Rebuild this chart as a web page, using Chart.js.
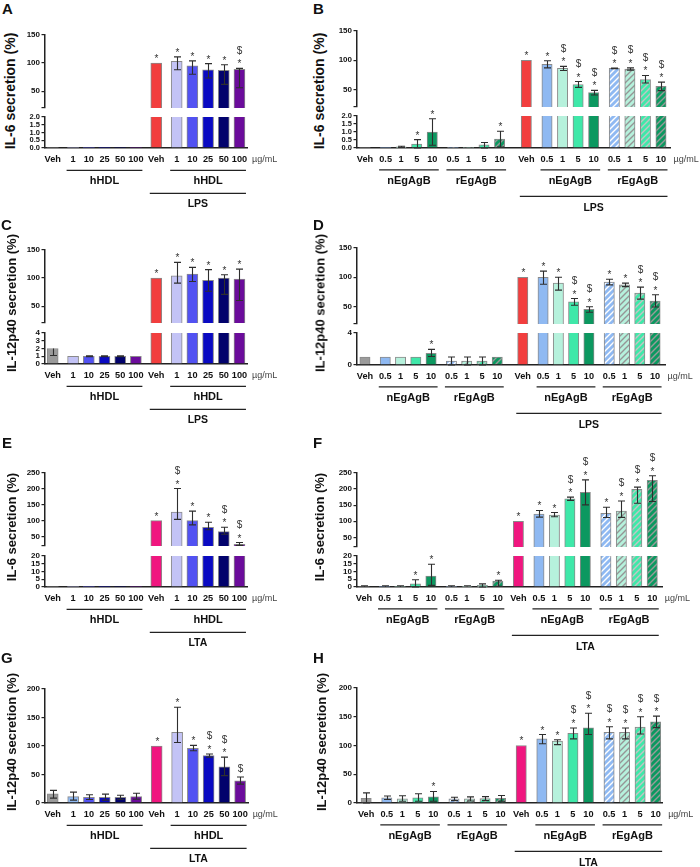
<!DOCTYPE html>
<html><head><meta charset="utf-8">
<script src="https://cdn.jsdelivr.net/npm/chart.js@4.4.0/dist/chart.umd.min.js"></script>
<style>
html,body{margin:0;padding:0;background:#fff;}
#fig{position:relative;width:700px;height:867px;overflow:hidden;font-family:"Liberation Sans",Arial,Helvetica,sans-serif;background:#fff;}
#fig canvas{position:absolute;}
.letter{position:absolute;font-weight:bold;color:#111;font-size:15px;line-height:1;}
.ytitle{position:absolute;font-weight:bold;color:#111;white-space:nowrap;line-height:1;transform:translate(-50%,-50%) rotate(-90deg);}
</style></head><body><div id="fig"></div>
<script>
// ---------------- DATA ----------------
const hdlLabels = ['Veh','1','10','25','50','100','Veh','1','10','25','50','100'];
const agbLabels = ['Veh','0.5','1','5','10','0.5','1','5','10','Veh','0.5','1','5','10','0.5','1','5','10'];
const hdlGroupNames = ['hHDL','hHDL'];
const agbGroupNames = ['nEgAgB','rEgAgB','nEgAgB','rEgAgB'];
const unitLabel = 'µg/mL';

const ticksUp150 = [20,50,100,150];        const ticksUp150Lbl = ['','50','100','150'];
const ticksLow2 = [0,0.5,1,1.5,2];         const ticksLow2Lbl = ['0.0','0.5','1.0','1.5','2.0'];
const ticksLow4 = [0,1,2,3,4];             const ticksLow4Lbl = ['0','1','2','3','4'];
const ticksLow4b = [0,4];                  const ticksLow4bLbl = ['0','4'];
const ticksUp250 = [20,50,100,150,200,250];const ticksUp250Lbl = ['','50','100','150','200','250'];
const ticksLow20 = [0,5,10,15,20];         const ticksLow20Lbl = ['0','5','10','15','20'];
const ticks200 = [0,50,100,150,200];       const ticks200Lbl = ['0','50','100','150','200'];

// A: IL-6, hHDL, LPS
const aMean  = [0,0,0,0,0,0,100,103,95,88,87,89];
const aErrUp = [0,0,0,0,0,0,0,8,9,11,10,1.5];
const aErrDn = [0,0,0,0,0,0,0,15,15,14.5,25,33];
const aMarks = ['','','','','','','*','*','*','*','*','*$'];
// B: IL-6, EgAgB, LPS
const bMean  = [0,0,0.07,0.25,1.0,0,0,0.2,0.55,100,93,86,58.5,44.5,86,85,67,55.5];
const bErrUp = [0,0,0.04,0.27,0.83,0,0,0.14,0.5,0,6,3.5,5,4,0.5,2,7,7];
const bErrDn = [0,0,0.04,0.25,0.83,0,0,0.2,0.5,0,6,3.5,5,4,0.5,2,6,7.5];
const bMarks = ['','','','*','*','','','','*','*','*','*$','*$','*$','*$','*$','*$','*$'];
// C: IL-12p40, hHDL, LPS
const cMean  = [2,1,1,1,1,1,100,104,107,96,100,98];
const cErrUp = [0,0,0.05,0.05,0.05,0,0,24,12,19,6,18];
const cErrDn = [0.9,0,0.05,0.05,0.05,0,0,13,13,19.5,29,38];
const cMarks = ['','','','','','','*','*','*','*','*','*'];
// D: IL-12p40, EgAgB, LPS
const dMean  = [1,1,1,1,1.45,0.5,0.5,0.5,1,100,100,90,58,45,91.5,87,73,59];
const dErrUp = [0,0,0,0,0.5,0.5,0.5,0.5,0,0,10.5,10,5.5,4.5,5,3,10,11];
const dErrDn = [0,0,0,0,0.4,0.5,0.5,0.5,0,0,12,12,6,5,4.5,3,10.5,10];
const dMarks = ['','','','','*','','','','','*','*','*','*$','*$','*','*','*$','*$'];
// E: IL-6, hHDL, LTA
const eMean  = [0,0,0,0,0,0,100,127,100,79,65.5,25];
const eErrUp = [0,0,0,0,0,0,0,74,30,16,13.5,6];
const eErrDn = [0,0,0,0,0,0,0,23,13.5,8,8.5,3];
const eMarks = ['','','','','','','*','*$','*','*','*$','*$'];
// F: IL-6, EgAgB, LTA
const fMean  = [0,0,0,2,7,0,0.3,1,3.8,100,122,119,170,190,124.5,132,199,227.5];
const fErrUp = [0.8,0.8,0.8,2.7,7.7,0.8,0.5,1,0.5,0,11.5,8,5,38.5,19,31,7,14];
const fErrDn = [0,0,0,2,6,0,0,1,3.4,0,9,5,5,39,13,20,43,66];
const fMarks = ['','','','*','*','','','','*','*','*','*','*$','*$','*','*$','*$','*$'];
// G: IL-12p40, hHDL, LTA
const gMean  = [16,11,10,10,10,11,100,124,96,83,63.5,39];
const gErrUp = [6,8,4.5,5.5,3.5,6,0,44,5,3,17,6.5];
const gErrDn = [7.5,6,4,5,3.5,4.5,0,18,4.5,2.5,15.5,6];
const gMarks = ['','','','','','','*','*','*','*$','*$','$'];
// H: IL-12p40, EgAgB, LTA
const hMean  = [8,9,7,9,10.5,7,7,7.5,8,100,111.5,107.5,121,130.5,123,123,132,141];
const hErrUp = [9.5,3,5.5,7,9.5,3,3.5,3.5,5,0,7.5,2.5,9.5,25.5,9.5,7.5,18,10];
const hErrDn = [8,3,4,6,7.5,3,3.5,3.5,5,0,8.5,6,9.5,11.5,11.5,11.5,12,10];
const hMarks = ['','','','','*','','','','','*','*','*','*$','*$','*$','*$','*$','*$'];

// ---------------- STYLE ----------------
const FONT = '"Liberation Sans", Arial, Helvetica, sans-serif';
Chart.defaults.font.family = FONT;
Chart.defaults.color = '#111';
const GRAY='#9b9b9b', RED='#f23e3e', PINK='#f0167f', LAV='#c3c3f6', BLUE1='#5252f2', BLUE2='#0a0ac2',
      NAVY='#02026c', PURPLE='#6b0c9b', LBLUE='#8fb9f2', MINT='#b6f1dc', AQUA='#3fe8a9', GREEN='#0c9860';
function hatch(base, stripe){
  const s=6, c=document.createElement('canvas'); c.width=s; c.height=s;
  const x=c.getContext('2d'); x.fillStyle=base; x.fillRect(0,0,s,s);
  x.strokeStyle=stripe; x.lineWidth=1.4; x.beginPath();
  x.moveTo(0,s); x.lineTo(s,0); x.moveTo(-1,1); x.lineTo(1,-1); x.moveTo(s-1,s+1); x.lineTo(s+1,s-1);
  x.stroke(); return x.createPattern(c,'repeat');
}
const hLBLUE=hatch(LBLUE,'#ffffff'), hMINT=hatch(MINT,'#959595'), hAQUA=hatch(AQUA,'#c4c4c4'), hGREEN=hatch(GREEN,'#9a9a9a');
const hdlColors = (stim, first) => [GRAY, first||LAV, BLUE1, BLUE2, NAVY, PURPLE, stim, LAV, BLUE1, BLUE2, NAVY, PURPLE];
const agbColors = (stim) => [GRAY, LBLUE, MINT, AQUA, GREEN, hLBLUE, hMINT, hAQUA, hGREEN, stim, LBLUE, MINT, AQUA, GREEN, hLBLUE, hMINT, hAQUA, hGREEN];

function positions(sizes, g, bigIdx, bigG){
  const out=[]; let p=0;
  sizes.forEach((n,gi)=>{
    if (gi>0) p += 1 + g + (gi===bigIdx ? bigG : 0);
    for (let k=0;k<n;k++){ if(k>0) p+=1; out.push(+p.toFixed(3)); }
  });
  return out;
}
const hdlGroups = (sec) => ({groups: hdlGroupNames.map((n,i)=>({name:n, from: i?7:1, to: i?11:5})), section:{name:sec, from:6, to:11}});
const agbGroups = (sec) => ({groups: agbGroupNames.map((n,i)=>({name:n, from:[1,5,10,14][i], to:[4,8,13,17][i]})), section:{name:sec, from:9, to:17}});

const offL = {gLine:22.5, gLab:33.5, sLine:45.5, sLab:56.5};
const offR = {gLine:22, gLab:33.5, sLine:48.5, sLab:60};

const panels = [
 Object.assign({letter:'A', lp:[2,1], title:'IL-6 secretion (%)', tp:[10,91], ts:14, labels:hdlLabels,
   sizes:[1,5,1,5], g:0.3, bigIdx:2, bigG:0, padL:0.49, padR:0.48, left:45, right:247, barW:11,
   mean:aMean, errUp:aErrUp, errDn:aErrDn, marks:aMarks, colors:hdlColors(RED), off:offL,
   segs:[{top:35,bottom:108,min:20,max:150,ticks:ticksUp150,tl:ticksUp150Lbl,fs:8},
         {top:117,bottom:148,min:0,max:2,ticks:ticksLow2,tl:ticksLow2Lbl,fs:7.5}]}, hdlGroups('LPS')),
 Object.assign({letter:'B', lp:[313,1], title:'IL-6 secretion (%)', tp:[319,91], ts:14, labels:agbLabels,
   sizes:[1,4,4,1,4,4], g:0.33, bigIdx:3, bigG:0.39, padL:0.51, padR:0.58, left:357, right:670, barW:10.3,
   mean:bMean, errUp:bErrUp, errDn:bErrDn, marks:bMarks, colors:agbColors(RED), off:offR,
   segs:[{top:31,bottom:107.3,min:20,max:150,ticks:ticksUp150,tl:ticksUp150Lbl,fs:8},
         {top:116,bottom:148,min:0,max:2,ticks:ticksLow2,tl:ticksLow2Lbl,fs:7.5}]}, agbGroups('LPS')),
 Object.assign({letter:'C', lp:[1,217], title:'IL-12p40 secretion (%)', tp:[11,303], ts:13, labels:hdlLabels,
   sizes:[1,5,1,5], g:0.3, bigIdx:2, bigG:0, padL:0.49, padR:0.48, left:45, right:247, barW:11,
   mean:cMean, errUp:cErrUp, errDn:cErrDn, marks:cMarks, colors:hdlColors(RED), off:offL,
   segs:[{top:250,bottom:323.3,min:20,max:150,ticks:ticksUp150,tl:ticksUp150Lbl,fs:8},
         {top:333.3,bottom:364.3,min:0,max:4,ticks:ticksLow4,tl:ticksLow4Lbl,fs:8}]}, hdlGroups('LPS')),
 Object.assign({letter:'D', lp:[313,217], title:'IL-12p40 secretion (%)', tp:[320,303], ts:13, labels:agbLabels,
   sizes:[1,4,4,1,4,4], g:0.33, bigIdx:3, bigG:0.34, padL:0.52, padR:0.65, left:357, right:665, barW:10.3,
   mean:dMean, errUp:dErrUp, errDn:dErrDn, marks:dMarks, colors:agbColors(RED), off:offR,
   segs:[{top:248.3,bottom:324.3,min:20,max:150,ticks:ticksUp150,tl:ticksUp150Lbl,fs:8},
         {top:333.3,bottom:365,min:0,max:4,ticks:ticksLow4b,tl:ticksLow4bLbl,fs:8}]}, agbGroups('LPS')),
 Object.assign({letter:'E', lp:[2,435], title:'IL-6 secretion (%)', tp:[11,527], ts:13, labels:hdlLabels,
   sizes:[1,5,1,5], g:0.3, bigIdx:2, bigG:0, padL:0.49, padR:0.48, left:45, right:247, barW:11,
   mean:eMean, errUp:eErrUp, errDn:eErrDn, marks:eMarks, colors:hdlColors(PINK), off:offL,
   segs:[{top:473.3,bottom:546,min:20,max:250,ticks:ticksUp250,tl:ticksUp250Lbl,fs:8},
         {top:556,bottom:586.7,min:0,max:20,ticks:ticksLow20,tl:ticksLow20Lbl,fs:8}]}, hdlGroups('LTA')),
 Object.assign({letter:'F', lp:[313,435], title:'IL-6 secretion (%)', tp:[319,527], ts:13, labels:agbLabels,
   sizes:[1,4,4,1,4,4], g:0.33, bigIdx:3, bigG:0, padL:0.45, padR:0.63, left:357, right:662, barW:10.3,
   mean:fMean, errUp:fErrUp, errDn:fErrDn, marks:fMarks, colors:agbColors(PINK), off:offR,
   segs:[{top:472.7,bottom:547,min:20,max:250,ticks:ticksUp250,tl:ticksUp250Lbl,fs:8},
         {top:555.5,bottom:586.7,min:0,max:20,ticks:ticksLow20,tl:ticksLow20Lbl,fs:8}]}, agbGroups('LTA')),
 Object.assign({letter:'G', lp:[1,650], title:'IL-12p40 secretion (%)', tp:[11,742], ts:13, labels:hdlLabels,
   sizes:[1,5,1,5], g:0.3, bigIdx:2, bigG:0, padL:0.49, padR:0.5, left:45, right:248, barW:11,
   mean:gMean, errUp:gErrUp, errDn:gErrDn, marks:gMarks, colors:hdlColors(PINK, LBLUE), off:offL,
   segs:[{top:689,bottom:803.3,min:0,max:200,ticks:ticks200,tl:ticks200Lbl,fs:8}]}, hdlGroups('LTA')),
 Object.assign({letter:'H', lp:[313,650], title:'IL-12p40 secretion (%)', tp:[321,742], ts:13, labels:agbLabels,
   sizes:[1,4,4,1,4,4], g:0.33, bigIdx:3, bigG:0, padL:0.59, padR:0.41, left:357, right:662, barW:10.3,
   mean:hMean, errUp:hErrUp, errDn:hErrDn, marks:hMarks, colors:agbColors(PINK), off:offR,
   segs:[{top:688.3,bottom:803.3,min:0,max:200,ticks:ticks200,tl:ticks200Lbl,fs:8}]}, agbGroups('LTA'))
];

// ---------------- PLUGINS ----------------
function errPlugin(P, lo, hi){
  return { id:'errbars', afterDatasetsDraw(chart){
    const ctx=chart.ctx, xs=chart.scales.x, ys=chart.scales.y;
    ctx.save();
    ctx.strokeStyle='#2e2e2e'; ctx.lineWidth=1.1;
    P.mean.forEach((m,i)=>{
      if (!(m>lo && m<=hi)) return;
      const up=P.errUp[i]||0, dn=P.errDn[i]||0, mk=P.marks[i];
      const px=Math.round(xs.getPixelForValue(P.pos[i]))+0.5;
      const pm=ys.getPixelForValue(m), half=3.5;
      ctx.beginPath();
      if (up>0){ const pt=ys.getPixelForValue(m+up); ctx.moveTo(px,pm); ctx.lineTo(px,pt); ctx.moveTo(px-half,pt); ctx.lineTo(px+half,pt); }
      if (dn>0){ const pb=ys.getPixelForValue(Math.max(m-dn, ys.min)); ctx.moveTo(px,pm); ctx.lineTo(px,pb); ctx.moveTo(px-half,pb); ctx.lineTo(px+half,pb); }
      ctx.stroke();
      if (mk){
        const topY=ys.getPixelForValue(m+up);
        ctx.fillStyle='#333'; ctx.textAlign='center'; ctx.textBaseline='alphabetic';
        ctx.font='10px '+FONT;
        if (mk.includes('*')){
          ctx.fillText('*', px, topY-1);
          if (mk.includes('$')) ctx.fillText('$', px, topY-14.5);
        } else if (mk.includes('$')) {
          ctx.fillText('$', px, topY-5.5);
        }
      }
    });
    ctx.restore();
  }};
}
function groupPlugin(P){
  return { id:'groups', afterDraw(chart){
    const ctx=chart.ctx, xs=chart.scales.x, base=chart.chartArea.bottom, o=P.off, ext=6.5;
    ctx.save();
    ctx.strokeStyle='#222'; ctx.lineWidth=1.3; ctx.fillStyle='#111';
    ctx.textAlign='center'; ctx.textBaseline='middle';
    const line=(a,b,y)=>{ ctx.beginPath(); ctx.moveTo(xs.getPixelForValue(P.pos[a])-ext, y); ctx.lineTo(xs.getPixelForValue(P.pos[b])+ext, y); ctx.stroke(); };
    const mid=(a,b)=>(xs.getPixelForValue(P.pos[a])+xs.getPixelForValue(P.pos[b]))/2;
    ctx.font='bold 11px '+FONT;
    P.groups.forEach(g=>{ line(g.from,g.to,base+o.gLine); ctx.fillText(g.name, mid(g.from,g.to), base+o.gLab); });
    const s=P.section;
    line(s.from,s.to,base+o.sLine);
    ctx.font='bold 10.5px '+FONT;
    ctx.fillText(s.name, mid(s.from,s.to), base+o.sLab);
    ctx.font='9px '+FONT; ctx.fillStyle='#444'; ctx.textAlign='left';
    ctx.fillText(unitLabel, xs.getPixelForValue(P.pos[P.pos.length-1])+12.5, base+11.5);
    ctx.restore();
  }};
}

// ---------------- BUILD ----------------
function makeConfig(P, seg, isBottom, lo, hi){
  const xmin=P.pos[0]-P.padL, xmax=P.pos[P.pos.length-1]+P.padR;
  return {
    type:'bar',
    data:{datasets:[{
      data:P.mean.map((v,i)=>({x:P.pos[i], y:v})),
      backgroundColor:P.colors,
      borderColor:'#8a8a8a',
      borderWidth:P.mean.map(v=>v>0?1:0),
      borderSkipped:'start',
      barThickness:P.barW,
      clip:0
    }]},
    options:{
      responsive:false, animation:false, devicePixelRatio:1, events:[],
      layout:{padding:{top:30,left:4,right:48,bottom:isBottom?64:8}},
      plugins:{legend:{display:false}, tooltip:{enabled:false}},
      scales:{
        x:{type:'linear', min:xmin, max:xmax, offset:false, display:isBottom,
           afterBuildTicks:s=>{ s.ticks=P.pos.map(v=>({value:v})); },
           ticks:{autoSkip:false, maxRotation:0, minRotation:0, padding:6, font:{size:9.2, weight:'bold'}, color:'#111',
                  callback:(v,i)=>P.labels[i]},
           grid:{display:false, drawTicks:false, offset:false},
           border:{display:true, color:'#222', width:1.5}},
        y:{min:seg.min, max:seg.max,
           afterBuildTicks:s=>{ s.ticks=seg.ticks.map(v=>({value:v})); },
           afterFit:s=>{ s.width=30; },
           ticks:{autoSkip:false, padding:1.5, font:{size:seg.fs, weight:'bold'}, color:'#111',
                  callback:(v,i)=>seg.tl[i]},
           grid:{drawOnChartArea:false, drawTicks:true, tickLength:3.5, color:'#222', lineWidth:1.2},
           border:{display:true, color:'#222', width:1.5}}
      }
    },
    plugins:[errPlugin(P,lo,hi)].concat(isBottom?[groupPlugin(P)]:[])
  };
}
const fig=document.getElementById('fig');
function setSize(c,w,h){ c.width=w; c.height=h; c.style.width=w+'px'; c.style.height=h+'px'; }
function mount(P, seg, isBottom, lo, hi){
  const cv=document.createElement('canvas'); fig.appendChild(cv);
  const tw=420, th=260; setSize(cv,tw,th);
  let ch=new Chart(cv, makeConfig(P,seg,isBottom,lo,hi));
  const ca=ch.chartArea, l=ca.left, t=ca.top, r=tw-ca.right, b=th-ca.bottom;
  ch.destroy();
  const cl=Math.round(P.left-l), ct=Math.round(seg.top-t);
  const W=Math.round(P.right-(cl+l)+l+r), H=Math.round(seg.bottom-(ct+t)+t+b);
  setSize(cv,W,H); cv.style.left=cl+'px'; cv.style.top=ct+'px';
  new Chart(cv, makeConfig(P,seg,isBottom,lo,hi));
}
panels.forEach(P=>{
  P.pos=positions(P.sizes,P.g,P.bigIdx,P.bigG);
  const L=document.createElement('div'); L.className='letter'; L.textContent=P.letter;
  L.style.left=P.lp[0]+'px'; L.style.top=P.lp[1]+'px'; fig.appendChild(L);
  const T=document.createElement('div'); T.className='ytitle'; T.textContent=P.title;
  T.style.left=P.tp[0]+'px'; T.style.top=P.tp[1]+'px'; T.style.fontSize=P.ts+'px'; fig.appendChild(T);
  const n=P.segs.length;
  P.segs.forEach((seg,si)=>{
    const isBottom = si===n-1;
    const lo = isBottom ? -Infinity : P.segs[si+1].max;
    const hi = (isBottom && n>1) ? seg.max : Infinity;
    mount(P, seg, isBottom, lo, hi);
  });
});
</script></body></html>
